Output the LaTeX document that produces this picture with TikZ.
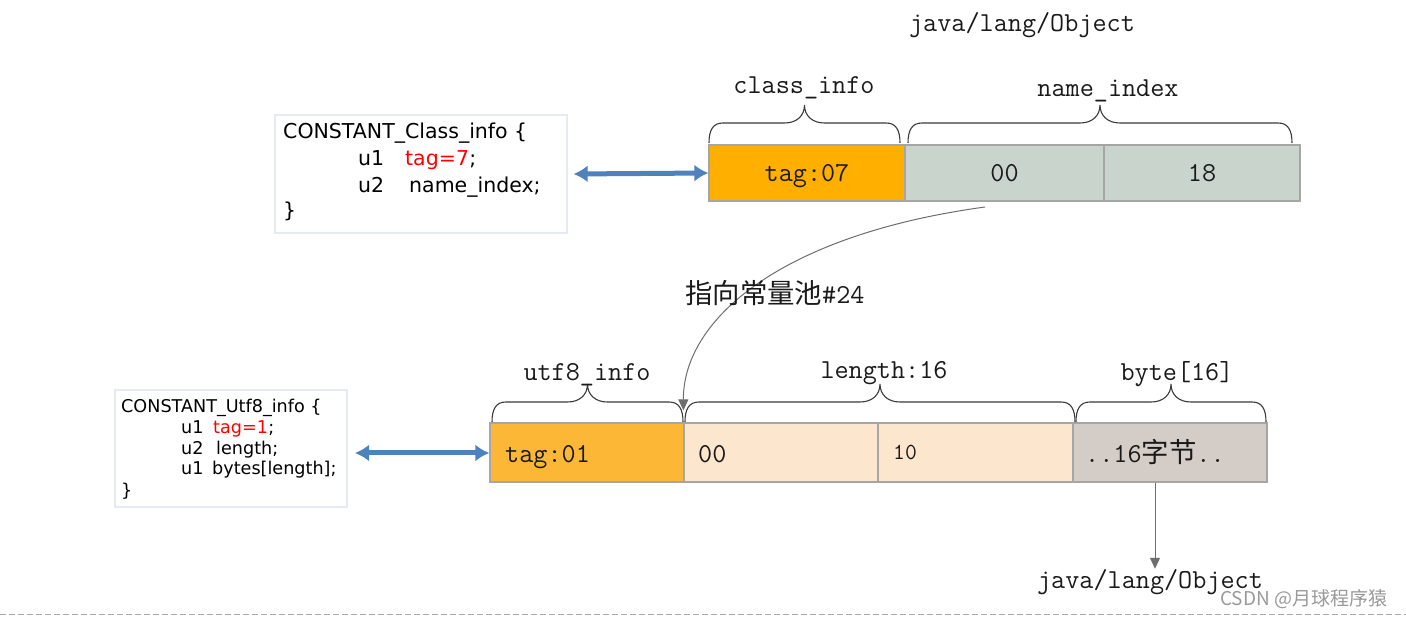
\documentclass[tikz,border=0pt]{standalone}
\usepackage{fontspec}
\newfontfamily\cjk{Noto Sans CJK SC}
\newfontfamily\codefont{DejaVu Sans}
\usetikzlibrary{arrows.meta}
\definecolor{orangeA}{HTML}{FFAF00}
\definecolor{greyA}{HTML}{C9D4CC}
\definecolor{orangeB}{HTML}{FBB735}
\definecolor{creamB}{HTML}{FCE6CE}
\definecolor{greyB}{HTML}{D4CCC7}
\definecolor{cellborder}{HTML}{A6A6A6}
\definecolor{arrowblue}{HTML}{4F81BD}
\definecolor{bracecol}{HTML}{3A3A3A}
\definecolor{ptrgray}{HTML}{6E6E6E}
\definecolor{codeborder}{HTML}{E6EAF2}
\definecolor{txt}{HTML}{1A1A1A}
\definecolor{wmgray}{HTML}{9A9A9A}
\definecolor{dashgray}{HTML}{AAAAAA}
\newcommand\bracedraw[3]{%
  \pgfmathsetmacro\bmid{(#1+#2)/2}%
  \draw[bracestyle] (#1,#3) .. controls (#1,#3-13) and (#1+4,#3-20) .. (#1+14,#3-20)
    -- (\bmid-20,#3-20) .. controls (\bmid-8,#3-20) and (\bmid,#3-27) .. (\bmid,#3-38)
    .. controls (\bmid,#3-27) and (\bmid+8,#3-20) .. (\bmid+20,#3-20)
    -- (#2-14,#3-20) .. controls (#2-4,#3-20) and (#2,#3-13) .. (#2,#3);}
\begin{document}
\begin{tikzpicture}[x=1pt,y=-1pt,
  cell/.style={draw=cellborder, line width=1.2pt, inner sep=0pt, anchor=center},
  lbl/.style={font=\fontsize{27.4}{27.4}\selectfont\ttfamily, text=txt, inner sep=0pt},
  bracestyle/.style={draw=bracecol, line width=1.1pt},
  codebox/.style={draw=codeborder, line width=1.2pt, fill=white, inner sep=0pt},
  codetxtA/.style={font=\fontsize{20.5}{20.5}\selectfont\codefont, inner sep=0pt, anchor=base west},
  codetxtB/.style={font=\fontsize{17.6}{17.6}\selectfont\codefont, inner sep=0pt, anchor=base west},
  bidir/.style={draw=arrowblue, line width=5pt, {Latex[length=14pt,width=17pt]}-{Latex[length=14pt,width=17pt]}},
  ptr/.style={draw=ptrgray, line width=1pt, -{Triangle[length=11pt,width=10pt]}}
]
\useasboundingbox (0,0) rectangle (1406,617);
\fill[white] (0,0) rectangle (1406,617);

% title
\node[lbl, anchor=base] (title) at (1022,32) {java/lang/Object};

% top code box
\node[codebox, minimum width=292pt, minimum height=118pt] (code1) at (421,174) {};
\node[codetxtA] (k1) at (283,139) {CONSTANT\_Class\_info \{};
\node[codetxtA] (k2) at (358,166) {u1};
\node[codetxtA, text=red] (k3) at (405,166) {tag=7};
\node[codetxtA, anchor=base west] (k3b) at (k3.base east) {;};
\node[codetxtA] (k4) at (358,193) {u2};
\node[codetxtA] (k5) at (409,193) {name\_index;};
\node[codetxtA] (k6) at (283,218) {\}};

% top row cells
\node[cell, fill=orangeA, minimum width=196pt, minimum height=56pt] (c07) at (807,173) {};
\node[cell, fill=greyA, minimum width=199pt, minimum height=56pt] (c00) at (1004.5,173) {};
\node[cell, fill=greyA, minimum width=196pt, minimum height=56pt] (c18) at (1202,173) {};
\node[lbl, anchor=base] (t07) at (807,182) {tag:07};
\node[lbl, anchor=base] (t00) at (1004.5,182) {00};
\node[lbl, anchor=base] (t18) at (1202,182) {18};

% top braces
\bracedraw{709}{900}{143}
\bracedraw{908}{1292}{143}
\node[lbl, anchor=base] (bci) at (804,94) {class\_info};
\node[lbl, anchor=base] (bni) at (1108,97) {name\_index};

\draw[bidir] ([xshift=6pt]code1.east) -- (c07.west);

% bottom code box
\node[codebox, minimum width=232pt, minimum height=117pt] (code2) at (231,448.5) {};
\node[codetxtB] (m1) at (121,413) {CONSTANT\_Utf8\_info \{};
\node[codetxtB] (m2) at (181,434) {u1};
\node[codetxtB, text=red] (m3) at (213,434) {tag=1};
\node[codetxtB] (m3b) at (m3.base east) {;};
\node[codetxtB] (m4) at (181,454) {u2};
\node[codetxtB] (m5) at (216,454) {length;};
\node[codetxtB] (m6) at (181,475) {u1};
\node[codetxtB] (m7) at (212,475) {bytes[length];};
\node[codetxtB] (m8) at (121,496) {\}};

% bottom row cells
\node[cell, fill=orangeB, minimum width=194pt, minimum height=59pt] (u01) at (587,452.5) {};
\node[cell, fill=creamB, minimum width=194pt, minimum height=59pt] (u00) at (781,452.5) {};
\node[cell, fill=creamB, minimum width=195pt, minimum height=59pt] (u10) at (975.5,452.5) {};
\node[cell, fill=greyB, minimum width=194pt, minimum height=59pt] (ub) at (1170,452.5) {};
\node[lbl, anchor=base west] (s01) at (505,462) {tag:01};
\node[lbl, anchor=base west] (s00) at (698,462) {00};
\node[lbl, anchor=base west, font=\fontsize{23}{23}\selectfont\ttfamily] (s10) at (893,460) {10};
\node[lbl, anchor=base west] (sb) at (1085,462) {..16{\cjk 字节}..};

% bottom braces
\bracedraw{492}{683}{422}
\bracedraw{685}{1075}{422}
\bracedraw{1076}{1266}{422}
\node[lbl, anchor=base] (bui) at (587,381) {utf8\_info};
\node[lbl, anchor=base] (bli) at (884,379) {length:16};
\node[lbl, anchor=base] (bby) at (1177,381) {byte[16]};

\coordinate (a2) at (355,453);
\draw[bidir] (a2) -- (u01.west |- a2);

% pointer curve
\coordinate (cs) at (985,207);
\draw[ptr] (cs) .. controls (780,235) and (683,320) .. ([yshift=12pt]u00.north west);
\node[lbl, anchor=base west] (ptrl) at (685,304) {{\cjk 指向常量池}\#24};

% down arrow
\node[lbl, anchor=base] (obj2) at (1150,588) {java/lang/Object};
\draw[ptr] ([xshift=-15pt]ub.south) -- ([xshift=-15pt]ub.south |- obj2.north);

% watermark and dashed line
\node[font=\fontsize{19}{19}\selectfont\cjk, text=wmgray, anchor=base west, inner sep=0pt] (wm) at (1220,605) {CSDN @月球程序猿};
\draw[dashgray, line width=1pt, dash pattern=on 6pt off 3pt] (0,614) -- (1406,614);
\end{tikzpicture}
\end{document}
